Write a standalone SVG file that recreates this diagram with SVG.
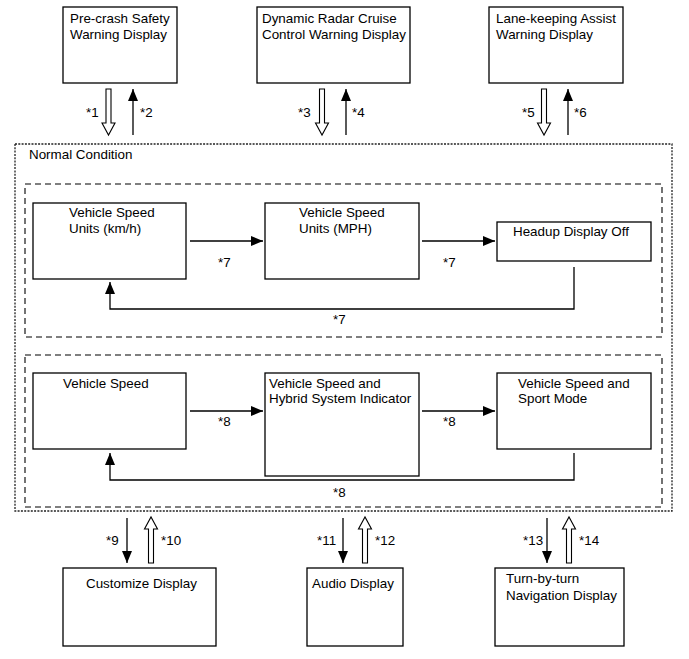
<svg xmlns="http://www.w3.org/2000/svg" width="689" height="659" viewBox="0 0 689 659">
<style>
text{font-family:"Liberation Sans",Arial,sans-serif;font-size:13.4px;fill:#000}
.box{fill:#fff;stroke:#000;stroke-width:1.3}
.outer{fill:none;stroke:#222;stroke-width:1.3;stroke-dasharray:2 1.3}
.inner{fill:none;stroke:#000;stroke-width:1.1;stroke-dasharray:6 4}
.ln{fill:none;stroke:#000;stroke-width:1.3}
.hol{fill:#fff;stroke:#000;stroke-width:1.1}
</style>
<defs>
<marker id="ah" viewBox="0 0 12 10" refX="12" refY="5" markerWidth="12" markerHeight="10" markerUnits="userSpaceOnUse" orient="auto">
<path d="M0,0 L12,5 L0,10 Z" fill="#000"/>
</marker>
</defs>
<rect width="689" height="659" fill="#fff"/>

<g id="normal-condition">
<rect class="outer" x="15" y="144" width="657" height="367"/>
<text x="29" y="159">Normal Condition</text>
</g>
<g id="group-units"><rect class="inner" x="25" y="184" width="637" height="153"/></g>
<g id="group-speed"><rect class="inner" x="25" y="355" width="637" height="152"/></g>

<g id="precrash"><rect class="box" x="63" y="7" width="114" height="76"/>
<text x="70" y="23">Pre-crash Safety</text><text x="70" y="39">Warning Display</text></g>
<g id="radar"><rect class="box" x="257" y="7" width="153" height="76"/>
<text x="262" y="23">Dynamic Radar Cruise</text><text x="262" y="39">Control Warning Display</text></g>
<g id="lane"><rect class="box" x="489" y="7" width="134" height="76"/>
<text x="496" y="23">Lane-keeping Assist</text><text x="496" y="39">Warning Display</text></g>

<g id="kmh"><rect class="box" x="33" y="203" width="153" height="76"/>
<text x="69" y="217">Vehicle Speed</text><text x="69" y="233">Units (km/h)</text></g>
<g id="mph"><rect class="box" x="265" y="203" width="154" height="76"/>
<text x="299" y="217">Vehicle Speed</text><text x="299" y="233">Units (MPH)</text></g>
<g id="hud-off"><rect class="box" x="497" y="222" width="154" height="39"/>
<text x="513" y="236">Headup Display Off</text></g>

<g id="vs"><rect class="box" x="33" y="373" width="153" height="76"/>
<text x="63" y="388">Vehicle Speed</text></g>
<g id="vs-hybrid"><rect class="box" x="265" y="373" width="154" height="103"/>
<text x="269" y="388">Vehicle Speed and</text><text x="269" y="403">Hybrid System Indicator</text></g>
<g id="vs-sport"><rect class="box" x="497" y="373" width="154" height="76"/>
<text x="518" y="388">Vehicle Speed and</text><text x="518" y="403">Sport Mode</text></g>

<g id="customize"><rect class="box" x="63" y="568" width="153" height="78"/>
<text x="86" y="588">Customize Display</text></g>
<g id="audio"><rect class="box" x="307" y="568" width="96" height="78"/>
<text x="312" y="588">Audio Display</text></g>
<g id="nav"><rect class="box" x="495" y="568" width="129" height="78"/>
<text x="506" y="583">Turn-by-turn</text><text x="506" y="600">Navigation Display</text></g>

<g id="connectors">
<polygon class="hol" points="106,89 111,89 111,123 115,123 108.5,135 102,123 106,123"/>
<line class="ln" x1="133" y1="135" x2="133" y2="89" marker-end="url(#ah)"/>
<polygon class="hol" points="319.5,89 324.5,89 324.5,123 328.5,123 322,135 315.5,123 319.5,123"/>
<line class="ln" x1="346" y1="135" x2="346" y2="89" marker-end="url(#ah)"/>
<polygon class="hol" points="541.5,89 546.5,89 546.5,123 550.5,123 544,135 537.5,123 541.5,123"/>
<line class="ln" x1="568" y1="135" x2="568" y2="89" marker-end="url(#ah)"/>
<text x="86" y="117">*1</text><text x="140" y="117">*2</text>
<text x="298" y="117">*3</text><text x="352" y="117">*4</text>
<text x="522" y="117">*5</text><text x="574" y="117">*6</text>

<line class="ln" x1="190" y1="241" x2="263" y2="241" marker-end="url(#ah)"/>
<line class="ln" x1="422" y1="241" x2="495" y2="241" marker-end="url(#ah)"/>
<polyline class="ln" points="574,267 574,309 110,309 110,282" marker-end="url(#ah)"/>
<text x="218" y="267">*7</text><text x="443" y="267">*7</text><text x="333" y="324">*7</text>

<line class="ln" x1="190" y1="411" x2="263" y2="411" marker-end="url(#ah)"/>
<line class="ln" x1="422" y1="411" x2="495" y2="411" marker-end="url(#ah)"/>
<polyline class="ln" points="574,453 574,480 110,480 110,453" marker-end="url(#ah)"/>
<text x="218" y="426">*8</text><text x="443" y="426">*8</text><text x="333" y="497">*8</text>

<line class="ln" x1="127" y1="518" x2="127" y2="563" marker-end="url(#ah)"/>
<polygon class="hol" points="148.5,563 153.5,563 153.5,529 157.5,529 151,517 144.5,529 148.5,529"/>
<line class="ln" x1="343" y1="518" x2="343" y2="563" marker-end="url(#ah)"/>
<polygon class="hol" points="362.5,563 367.5,563 367.5,529 371.5,529 365,517 358.5,529 362.5,529"/>
<line class="ln" x1="547" y1="518" x2="547" y2="563" marker-end="url(#ah)"/>
<polygon class="hol" points="566.5,563 571.5,563 571.5,529 575.5,529 569,517 562.5,529 566.5,529"/>
<text x="106" y="545">*9</text><text x="161" y="545">*10</text>
<text x="317" y="545">*11</text><text x="375" y="545">*12</text>
<text x="523" y="545">*13</text><text x="579" y="545">*14</text>
</g>
</svg>
